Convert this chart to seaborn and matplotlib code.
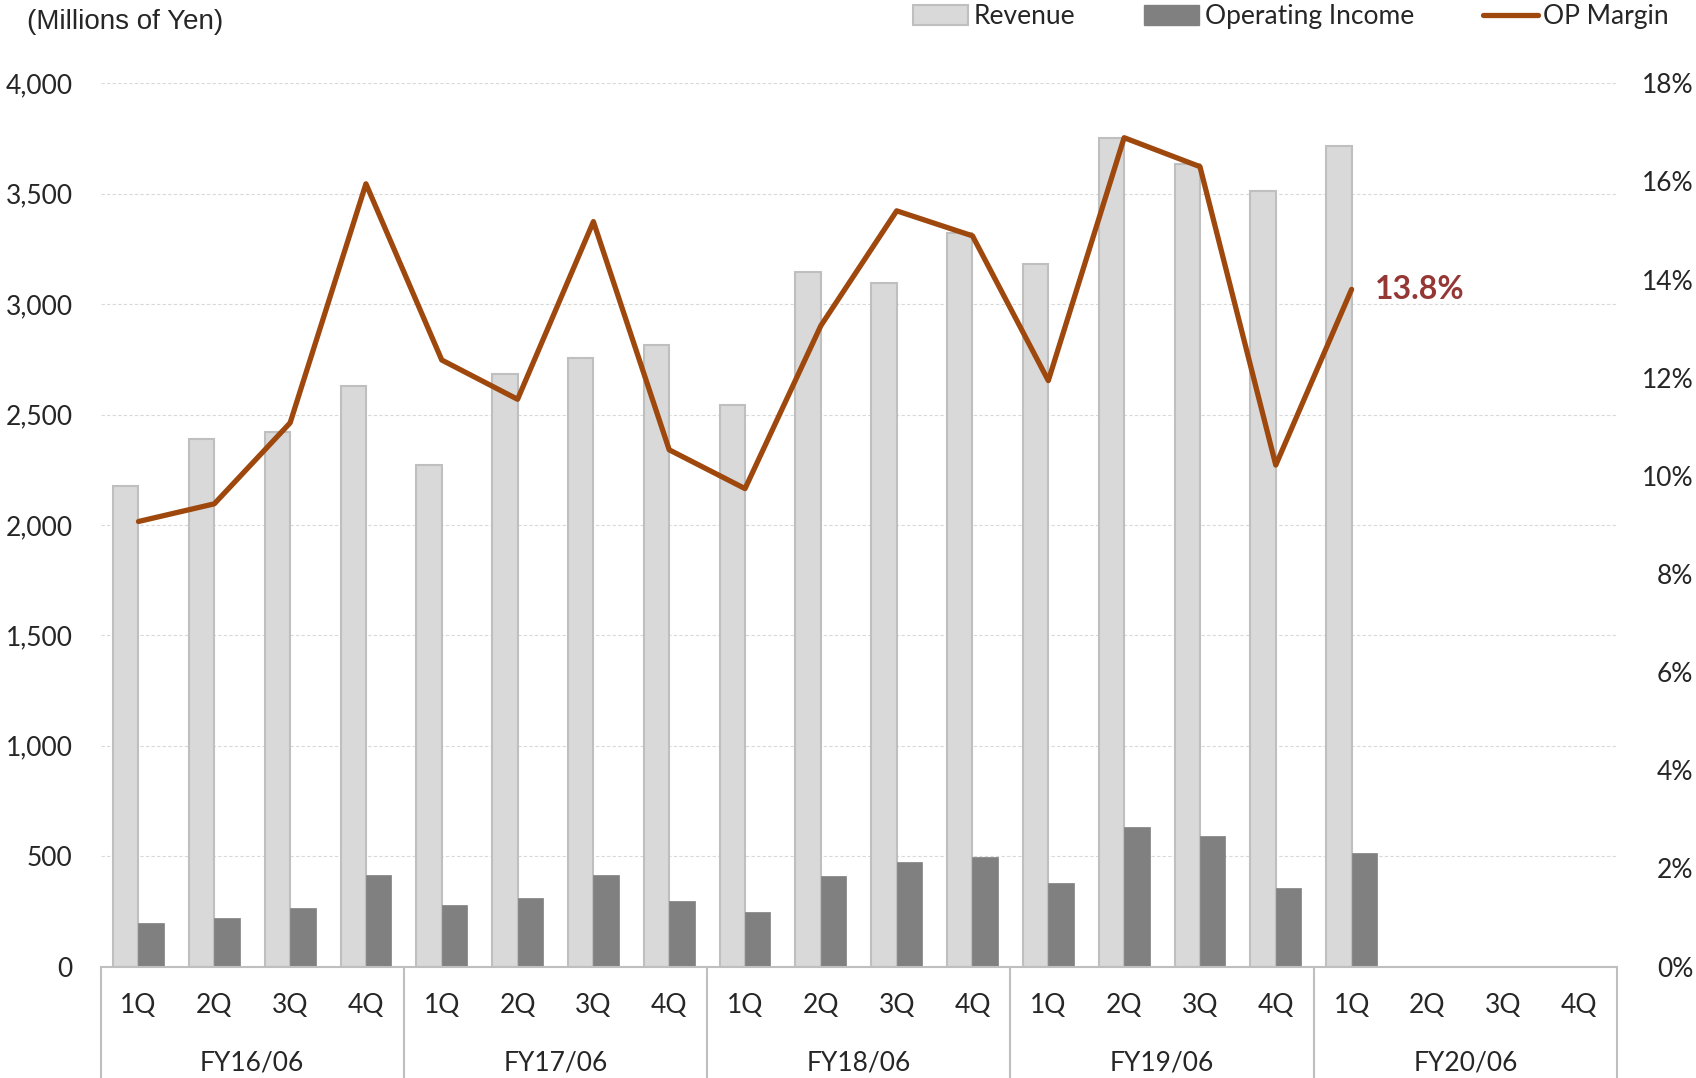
import numpy as np
import pandas as pd
import matplotlib.pyplot as plt
import matplotlib.transforms as mtransforms
from matplotlib.patches import Patch
from matplotlib.lines import Line2D
import seaborn as sns

# quarterly figures, millions of yen
years = ["FY16/06", "FY17/06", "FY18/06", "FY19/06", "FY20/06"]
quarters = ["1Q", "2Q", "3Q", "4Q"]
revenue = [2175, 2390, 2420, 2630, 2270, 2685, 2755, 2815, 2545, 3145,
           3095, 3320, 3180, 3750, 3635, 3510, 3715]
op_income = [197, 222, 265, 417, 280, 310, 417, 295, 247, 410,
             475, 495, 378, 632, 592, 358, 513]
op_margin = [9.07, 9.43, 11.08, 15.95, 12.36, 11.56, 15.18, 10.53, 9.74, 13.06,
             15.40, 14.89, 11.94, 16.89, 16.30, 10.22, 13.8]

REV_COL = "#D9D9D9"
OI_COL = "#808080"
LINE_COL = "#9E480E"
AXIS_COL = "#BFBFBF"

slots = [f"{y} {q}" for y in years for q in quarters]
n = len(revenue)
bars = pd.concat([
    pd.DataFrame({"slot": slots[:n], "value": revenue, "series": "Revenue"}),
    pd.DataFrame({"slot": slots[:n], "value": op_income, "series": "Operating Income"}),
])

sns.set_style("white")
plt.rcParams['font.family'] = ['Lato', 'DejaVu Sans']

fig = plt.figure(figsize=(16.96, 10.78), dpi=100)
ax = fig.add_axes([0.0593, 0.1033, 0.9534 - 0.0593, 0.9228 - 0.1033])

sns.barplot(data=bars, x="slot", y="value", hue="series", order=slots,
            hue_order=["Revenue", "Operating Income"],
            palette={"Revenue": REV_COL, "Operating Income": OI_COL},
            width=0.67, gap=0, saturation=1, errorbar=None, legend=False, ax=ax)
for p in ax.containers[0]:
    p.set_edgecolor(AXIS_COL)
    p.set_linewidth(1.5)
for p in ax.containers[1]:
    p.set_edgecolor(OI_COL)
    p.set_linewidth(0.5)

ax.set_ylim(0, 4000)
ax.set_yticks(range(0, 4001, 500))
ax.set_yticklabels([f"{v:,}" for v in range(0, 4001, 500)])
ax.set_axisbelow(True)
ax.yaxis.grid(True, color="#D9D9D9", linestyle=(0, (3, 2)), linewidth=0.8)
ax.set_xlabel("")
ax.set_ylabel("")
for s in ["left", "top", "right"]:
    ax.spines[s].set_visible(False)
ax.spines["bottom"].set_color(AXIS_COL)
ax.spines["bottom"].set_linewidth(1.5)
ax.set_xticks(range(len(slots)))
ax.set_xticklabels([s.split(" ")[1] for s in slots])
ax.tick_params(axis="x", length=0, pad=19, labelsize=19)
ax.tick_params(axis="y", length=0, pad=20, labelsize=19)

# margin line on the right axis
ax2 = ax.twinx()
sns.lineplot(x=np.arange(n), y=op_margin, ax=ax2, color=LINE_COL, linewidth=3.8)
ax2.set_ylim(0, 18)
ax2.set_yticks(range(0, 19, 2))
ax2.set_yticklabels([f"{v}%" for v in range(0, 19, 2)])
ax2.tick_params(axis="y", length=0, pad=55, labelsize=19)
for lbl in ax2.get_yticklabels():
    lbl.set_horizontalalignment("right")
for s in ["left", "top", "right", "bottom"]:
    ax2.spines[s].set_visible(False)
ax.set_xlim(-0.5, len(slots) - 0.5)

ax2.annotate(f"{op_margin[-1]:.1f}%", xy=(n - 1, op_margin[-1]), xytext=(17, 0),
             textcoords="offset points", ha="left", va="center",
             color="#953735", fontweight="bold", fontsize=23)

# two-level category axis
trans = mtransforms.blended_transform_factory(ax.transData, ax.transAxes)
for b in np.arange(-0.5, len(slots), 4):
    ax.plot([b, b], [0, -0.2], transform=trans, clip_on=False, color=AXIS_COL, lw=1.5)
for i, y in enumerate(years):
    ax.text(4 * i + 1.5, -0.109, y, transform=trans, ha="center", va="center", fontsize=19)

fig.text(0.016, 0.98, "(Millions of Yen)", ha="left", va="center",
         fontsize=20, family=["Liberation Sans", "DejaVu Sans"])

handles = [Patch(facecolor=REV_COL, edgecolor=AXIS_COL, linewidth=1.5),
           Patch(facecolor=OI_COL, edgecolor=OI_COL),
           Line2D([], [], color=LINE_COL, linewidth=3.8)]
fig.legend(handles, ["Revenue", "Operating Income", "OP Margin"], ncol=3,
           loc="upper right", bbox_to_anchor=(0.998, 1.018), frameon=False,
           fontsize=19, handlelength=2.1, handleheight=0.8, handletextpad=0.2,
           columnspacing=2.6)

fig.savefig("out.png", dpi=100)
